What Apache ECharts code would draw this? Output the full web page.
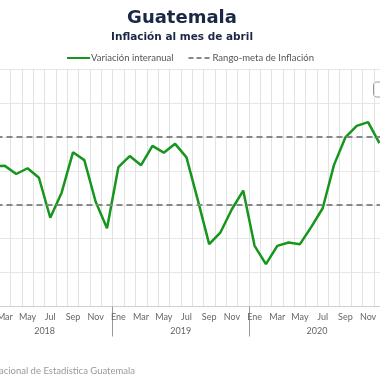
<!DOCTYPE html>
<html>
<head>
<meta charset="utf-8">
<script src="https://cdn.jsdelivr.net/npm/echarts@6/dist/echarts.min.js"></script>
<style>html,body{margin:0;padding:0;background:#fff}#c{width:380px;height:380px}</style>
</head>
<body>
<div id="c"></div>
<script>
const monthNames = ['Ene','Feb','Mar','Abr','May','Jun','Jul','Ago','Sep','Oct','Nov','Dic'];
const years = ['2018','2019','2020'];
const inflation2018 = [4.71, 4.14, 4.15, 3.91, 4.08, 3.80, 2.62, 3.36, 4.55, 4.32, 3.09, 2.31];
const inflation2019 = [4.11, 4.44, 4.17, 4.74, 4.54, 4.80, 4.40, 3.14, 1.84, 2.19, 2.87, 3.42];
const inflation2020 = [1.79, 1.25, 1.79, 1.89, 1.84, 2.35, 2.90, 4.18, 4.99, 5.33, 5.44, 4.82];
const targetLower = 3;
const targetUpper = 5;

const categories = [];
years.forEach(y => monthNames.forEach(m => categories.push(m + ' ' + y)));
const values = inflation2018.concat(inflation2019, inflation2020);

const font = 'Lato, "Noto Sans", sans-serif';
const titleFont = '"DejaVu Sans", sans-serif';
const chart = echarts.init(document.getElementById('c'));
chart.setOption({
  animation: false,
  title: {
    text: 'Guatemala',
    subtext: 'Inflación al mes de abril',
    left: 177, top: 4, textAlign: 'center',
    itemGap: 5,
    textStyle: {fontFamily: titleFont, fontSize: 18, fontWeight: 'bold', color: '#1a2745'},
    subtextStyle: {fontFamily: titleFont, fontSize: 10.5, fontWeight: 'bold', color: '#1a2745'}
  },
  legend: {
    top: 48, left: 'center',
    itemWidth: 23, itemHeight: 10, itemGap: 14,
    itemStyle: {opacity: 0},
    textStyle: {fontFamily: font, fontSize: 9.5, color: '#555', padding: [0,0,0,-4]},
    data: ['Variación interanual', 'Rango-meta de Inflación']
  },
  grid: {left: -23.5, right: -5.1, top: 69.3, bottom: 73.5, outerBoundsMode: 'none', containLabel: false},
  xAxis: [{
    type: 'category', data: categories, boundaryGap: true,
    axisLine: {show: true, lineStyle: {color: '#d0d0d0'}},
    axisTick: {show: false},
    axisLabel: {interval: 1, margin: 6, fontFamily: font, fontSize: 9, color: '#666',
      formatter: v => v.split(' ')[0]},
    splitLine: {show: true, interval: 0, lineStyle: {color: '#e2e2e2', width: 1}}
  }, {
    type: 'category', data: years, position: 'bottom', boundaryGap: true,
    axisLine: {show: false},
    axisTick: {show: true, length: 30, interval: 0, lineStyle: {color: '#999'}},
    axisLabel: {margin: 20, fontFamily: font, fontSize: 9, color: '#666'},
    splitLine: {show: false}
  }],
  yAxis: {
    type: 'value', min: 0, max: 7, interval: 1,
    axisLabel: {show: false}, axisLine: {show: false}, axisTick: {show: false},
    splitLine: {lineStyle: {color: '#e6e6e6', width: 1}}
  },
  series: [{
    name: 'Variación interanual', type: 'line', data: values,
    symbol: 'none', lineStyle: {color: '#16961c', width: 2.5}, itemStyle: {color: '#16961c'}
  }, {
    name: 'Rango-meta de Inflación', type: 'line', data: [],
    symbol: 'none', lineStyle: {color: '#888', width: 2, type: [5, 3]}, itemStyle: {color: '#888'},
    markLine: {
      silent: true, symbol: 'none', label: {show: false},
      lineStyle: {color: '#888', width: 2, type: [6, 4]},
      data: [{yAxis: targetUpper}, {yAxis: targetLower}]
    }
  }],
  graphic: [{
    type: 'rect', shape: {x: 373.5, y: 82, width: 20, height: 15, r: 3},
    style: {fill: '#fff', stroke: '#999', lineWidth: 1}
  }, {
    type: 'text', x: 135, y: 371,
    style: {text: 'Fuente: Instituto Nacional de Estadística Guatemala', align: 'right', verticalAlign: 'middle',
      fill: '#999', font: '9.5px ' + font}
  }]
});
</script>
</body>
</html>
